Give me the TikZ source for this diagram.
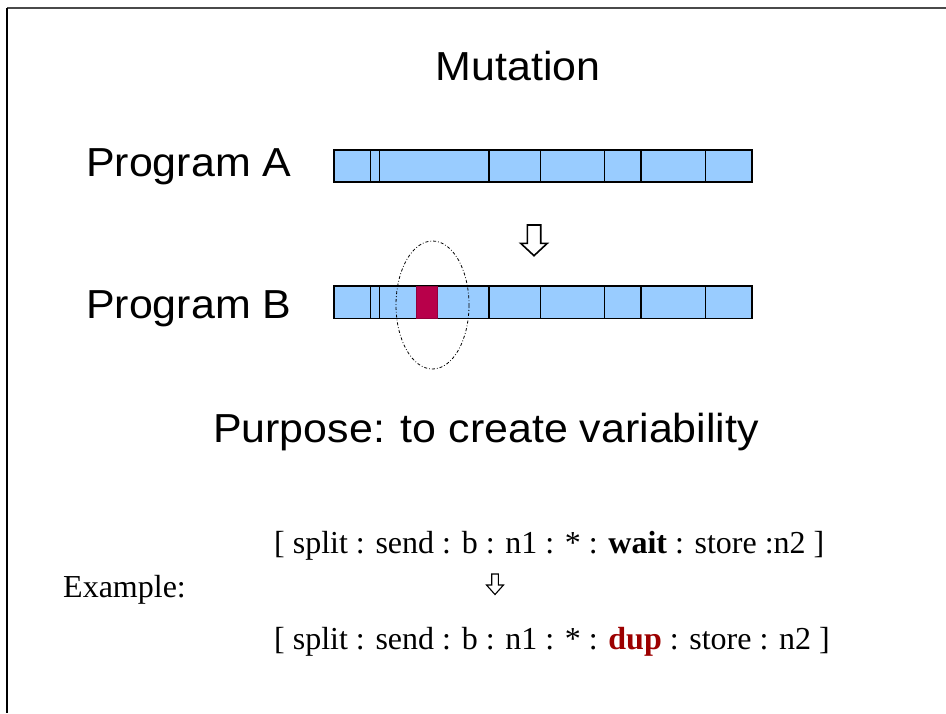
\documentclass[tikz,border=0pt]{standalone}
\usepackage{fontspec}
\setmainfont{Liberation Serif}
\newfontfamily\arialfont{Liberation Sans}
\definecolor{cellblue}{HTML}{99CCFF}
\definecolor{cellred}{HTML}{B8004A}
\definecolor{dupred}{HTML}{9C0000}
\definecolor{framegray}{HTML}{4A4A4A}
\newcommand\widetxt[1]{\scalebox{1.06}[1]{#1}}
\begin{document}
\begin{tikzpicture}[x=1pt,y=-1pt,
  head/.style={font=\arialfont\fontsize{40.5}{48}\selectfont, inner sep=0pt},
  serif/.style={font=\fontsize{32}{40}\selectfont, inner sep=0pt},
  cellbar/.style={draw=black, line width=1.1pt, fill=cellblue},
  hollowarrow/.style={draw=black, fill=white, line width=1.6pt, line join=miter}]
\useasboundingbox (0,0) rectangle (946,713);
% frame
\draw[framegray, line width=2pt] (946,7.5) -- (7,7.5);
\draw[black, line width=2pt] (7,7.5) -- (7,713);
% titles
\node[head, anchor=base] (title) at (518,80) {\widetxt{Mutation}};
\node[head, anchor=base west] (progA) at (86,176) {\widetxt{Program A}};
\node[head, anchor=base west] (progB) at (86,318) {\widetxt{Program B}};
\node[head, anchor=base] (purpose) at (486,442) {\widetxt{Purpose: to create variability}};
% bars
\foreach \yt/\yb in {150/182, 286/318.5}{
  \fill[cellblue] (334,\yt) rectangle (752,\yb);
  \foreach \xa/\xb in {334/370.7, 370.7/379.3, 379.3/489, 489/540.3, 540.3/604.3, 604.3/641, 641/705.7, 705.7/752}{
    \draw[cellbar] (\xa,\yt) rectangle (\xb,\yb);
  }
}
\draw[draw=cellred!80!black, fill=cellred, line width=0.8pt] (416,286) rectangle (437.7,318.5);
% ellipse
\draw[black, line width=0.8pt, dash dot] (432.5,305) ellipse [x radius=36.5, y radius=64];
% big hollow arrow
\draw[hollowarrow] (527.3,225) -- (540.7,225) -- (540.7,243.3) -- (547.3,243.3) -- (534,255.7) -- (520.7,243.3) -- (527.3,243.3) -- cycle;
% example
\node[serif, anchor=base west] (ex) at (63,597) {Example:};
\node[serif, anchor=base west] (line1) at (274,553) {[ split : send : b : n1 : * : \textbf{wait} : store :n2 ]};
\node[serif, anchor=base west] (line2) at (274,649) {[ split : send : b : n1 : * : \textcolor{dupred}{\textbf{dup}} : store : n2 ]};
\draw[hollowarrow, line width=1.1pt] (491.7,574) -- (498.3,574) -- (498.3,585) -- (503.5,585) -- (495,594.5) -- (486.5,585) -- (491.7,585) -- cycle;
\end{tikzpicture}
\end{document}
